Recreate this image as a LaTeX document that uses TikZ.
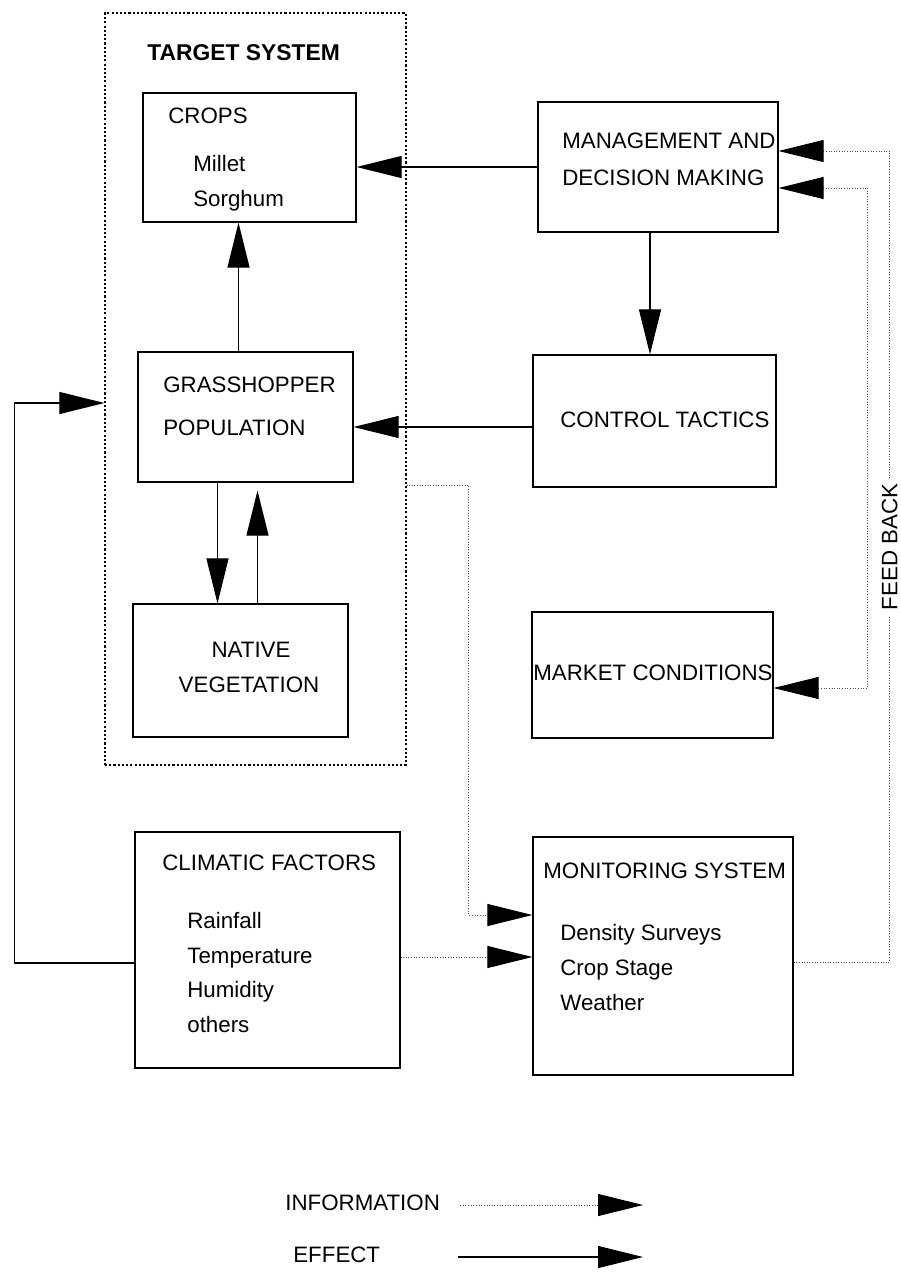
\documentclass[tikz,border=0pt]{standalone}
\usepackage{fontspec}
\setmainfont{Liberation Sans}
\usetikzlibrary{arrows.meta}
\tikzset{
  box/.style={draw, line width=0.7pt, inner sep=0pt},
  txt/.style={anchor=west, inner sep=0pt, text height=9pt, text depth=2.5pt, font=\fontsize{12.7}{15}\selectfont},
  ctxt/.style={txt, anchor=center},
  effect/.style={line width=0.6pt, ->},
  info/.style={line width=0.5pt, densely dotted, gray!60!black, ->},
}
\begin{document}
\begin{tikzpicture}[x=0.02cm, y=-0.02cm, >={Triangle[length=0.9cm, width=0.44cm, color=black]}]
  \useasboundingbox (0,0) rectangle (901,1279);
  \node[draw, line width=0.7pt, dash pattern=on 1.2pt off 1.2pt, inner sep=0pt,
        minimum width=6.02cm, minimum height=15.04cm] (tgt) at (255.5,389) {};
  \node[txt, font=\fontsize{13}{15}\selectfont\bfseries] (tgtlbl) at (147,55) {TARGET SYSTEM};

  \node[box, minimum width=4.26cm, minimum height=2.58cm] (crops) at (249.5,157.5) {};
  \node[box, minimum width=4.8cm, minimum height=2.6cm] (mgmt) at (658,167) {};
  \node[box, minimum width=4.3cm, minimum height=2.6cm] (gp) at (245.5,417) {};
  \node[box, minimum width=4.86cm, minimum height=2.64cm] (ct) at (654.5,421) {};
  \node[box, minimum width=4.3cm, minimum height=2.66cm] (nv) at (240.5,670.5) {};
  \node[box, minimum width=4.82cm, minimum height=2.52cm] (mkt) at (652.5,675) {};
  \node[box, minimum width=5.3cm, minimum height=4.72cm] (clim) at (267.5,950) {};
  \node[box, minimum width=5.2cm, minimum height=4.76cm] (mon) at (663,956) {};

  \node[txt] at (168,118) {CROPS};
  \node[txt] at (193,166) {Millet};
  \node[txt] at (193,201) {Sorghum};
  \node[txt] at (562,143) {MANAGEMENT AND};
  \node[txt] at (562,180) {DECISION MAKING};
  \node[txt] at (163,387) {GRASSHOPPER};
  \node[txt] at (163,430) {POPULATION};
  \node[txt] at (560,422) {CONTROL TACTICS};
  \node[ctxt] at (251,652) {NATIVE};
  \node[ctxt] at (249,687) {VEGETATION};
  \node[txt] at (533,675) {MARKET CONDITIONS};
  \node[txt] at (162,865) {CLIMATIC FACTORS};
  \node[txt] at (187,923) {Rainfall};
  \node[txt] at (187,958) {Temperature};
  \node[txt] at (187,992) {Humidity};
  \node[txt] at (187,1027) {others};
  \node[txt] at (543,873) {MONITORING SYSTEM};
  \node[txt] at (560,935) {Density Surveys};
  \node[txt] at (560,970) {Crop Stage};
  \node[txt] at (560,1005) {Weather};

  \draw[effect] (mgmt.west) -- (mgmt.west -| crops.east);
  \draw[effect] ([xshift=-0.16cm]mgmt.south) -- ([xshift=-0.16cm]mgmt.south |- ct.north);
  \draw[effect] ([yshift=-0.12cm]ct.west) -- ([yshift=-0.12cm]ct.west -| gp.east);
  \draw[effect] ([xshift=-0.14cm]gp.north) -- ([xshift=-0.14cm]gp.north |- crops.south);
  \draw[effect] ([xshift=-0.56cm]gp.south) -- ([xshift=-0.56cm]gp.south |- nv.north);
  \draw[effect, shorten >=0.16cm] ([xshift=0.34cm]nv.north) -- ([xshift=0.34cm]nv.north |- gp.south);
  \draw[effect] ([yshift=-0.26cm]clim.west) -- ++(-120,0) |- ([yshift=-0.28cm]tgt.west);

  \draw[info] ([yshift=-1.92cm]tgt.east) -- ++(62,0) |- ([yshift=0.82cm]mon.west);
  \draw[info] ([yshift=-0.14cm]clim.east) -- ([yshift=-0.14cm]clim.east -| mon.west);
  \draw[info] ([yshift=-0.12cm]mon.east) -- ++(96,0)
    |- node[pos=0.256, rotate=90, fill=white, inner sep=3pt, text=black,
            font=\fontsize{12.7}{15}\selectfont] (fb) {FEED BACK}
    ([yshift=0.32cm]mgmt.east);
  \draw[info, <->] ([yshift=-0.26cm]mkt.east) -- ++(94,0) |- ([yshift=-0.42cm]mgmt.east);

  \node[txt] (infolbl) at (285,1205) {INFORMATION};
  \coordinate (infoend) at (643,1205);
  \draw[info] ([xshift=0.4cm]infolbl.east) -- (infoend);
  \node[txt] (efflbl) at (293,1257) {EFFECT};
  \coordinate (effend) at (643,1257);
  \draw[effect] ([xshift=1.56cm]efflbl.east) -- (effend);
\end{tikzpicture}
\end{document}
